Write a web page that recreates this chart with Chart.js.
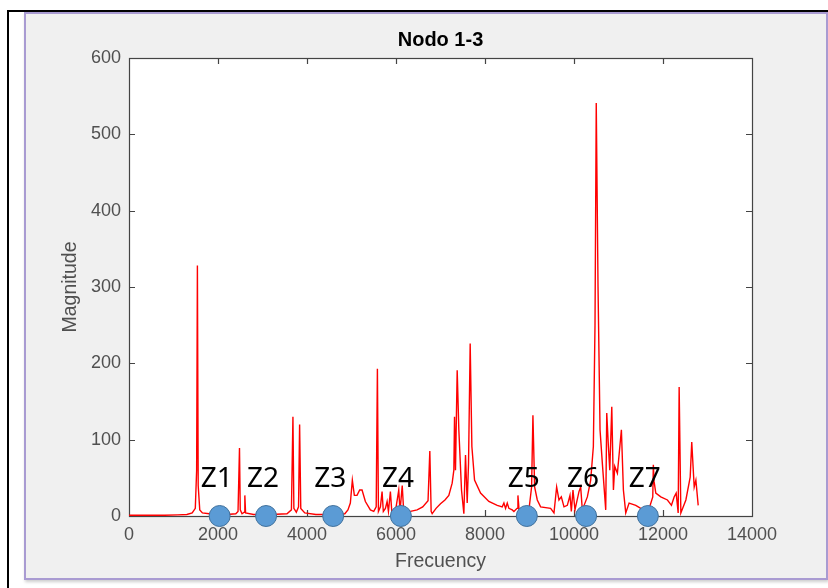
<!DOCTYPE html>
<html>
<head>
<meta charset="utf-8">
<script src="https://cdn.jsdelivr.net/npm/chart.js@4.4.1/dist/chart.umd.min.js"></script>
<style>
    html, body { margin: 0; padding: 0; background: #fff; }
    #page { position: relative; width: 828px; height: 588px; overflow: hidden; }
    .outer { position: absolute; left: 7px; top: 10px; right: 0; bottom: 0;
             border-left: 2px solid #000; border-top: 2px solid #000; }
    .panel { position: absolute; left: 24px; top: 12px; width: 800px; height: 564px;
             background: #f0f0f0; border: 2px solid #a99bd2; box-shadow: 1px 2px 3px rgba(0,0,0,0.2); }
    canvas { position: absolute; left: 0; top: 0; }
</style>
</head>
<body>
<div id="page">
    <div class="outer"></div>
    <div class="panel"></div>
    <canvas id="chart" width="828" height="588"></canvas>
</div>
<script>
// spectrum
const freq = [0, 400, 800, 1100, 1300, 1420, 1490, 1520, 1537, 1555, 1590, 1650, 1800, 2000, 2200,
    2400, 2450, 2483, 2500, 2540, 2590, 2603, 2620, 2800, 3200, 3550, 3650, 3684, 3705, 3760,
    3810, 3834, 3860, 3950, 4200, 4600, 4850, 4920, 4974, 5019, 5064, 5124, 5184, 5237, 5312,
    5424, 5500, 5555, 5582, 5605, 5650, 5687, 5715, 5762, 5800, 5830, 5874, 5905, 5987, 6062,
    6090, 6140, 6175, 6324, 6475, 6600, 6720, 6760, 6790, 6813, 6900, 7000, 7100, 7187, 7262,
    7300, 7315, 7337, 7375, 7412, 7472, 7525, 7562, 7600, 7630, 7667, 7705, 7765, 7900, 8087,
    8275, 8387, 8425, 8462, 8500, 8537, 8612, 8650, 8720, 8740, 8770, 8875, 8987, 9047, 9077,
    9115, 9175, 9250, 9475, 9550, 9610, 9662, 9715, 9775, 9850, 9910, 9940, 9977, 10022, 10112,
    10150, 10187, 10300, 10375, 10435, 10472, 10500, 10540, 10585, 10637, 10713, 10736, 10773, 10804, 10849,
    10886, 10916, 10975, 11065, 11110, 11163, 11238, 11388, 11500, 11613, 11700, 11770, 11783, 11800, 11838,
    11950, 12100, 12190, 12250, 12296, 12341, 12363, 12401, 12514, 12611, 12646, 12701, 12739, 12791];
const mag = [1, 1, 1, 1.5, 2, 4, 10, 60, 328, 40, 8, 4, 3, 2, 2,
    3, 6, 89, 8, 3, 5, 27, 4, 2, 2, 3, 8, 130, 10, 5,
    12, 120, 10, 4, 2, 2, 3, 8, 17, 47, 27, 27, 34, 34, 19,
    8, 6, 12, 193, 6, 12, 32, 6, 10, 19, 6, 32, 6, 6, 34,
    6, 40, 4, 6, 8, 12, 20, 85, 6, 3, 10, 16, 21, 27, 43,
    60, 130, 60, 191, 113, 34, 3, 80, 17, 69, 226, 91, 47, 30, 19,
    14, 12, 17, 10, 17, 10, 8, 6, 10, 27, 5, 6, 8, 38, 132,
    38, 21, 12, 10, 4, 38, 21, 25, 12, 14, 27, 6, 34, 8, 32,
    38, 8, 25, 47, 91, 250, 541, 300, 113, 69, 8, 135, 91, 60, 143,
    34, 65, 56, 113, 34, 4, 17, 14, 10, 6, 12, 25, 67, 45, 30,
    25, 21, 14, 25, 30, 4, 169, 4, 21, 51, 97, 38, 47, 14];

// zone markers on the frequency axis
const zoneNames = ['Z1', 'Z2', 'Z3', 'Z4', 'Z5', 'Z6', 'Z7'];
const zoneFreq = [2037, 3080, 4588, 6110, 8940, 10272, 11660];

const chartTitle = 'Nodo 1-3';
const tickFont = {family: 'Liberation Sans', size: 18, lineHeight: 1.2};
const labelFont = {family: 'Liberation Sans', size: 19.5, lineHeight: 1.2};
const tickColor = '#505050';
const axisColor = '#444';

const matlabAxes = {
    id: 'matlabAxes',
    beforeDraw(chart) {
        const {ctx, chartArea: a} = chart;
        ctx.save();
        ctx.fillStyle = '#fff';
        ctx.fillRect(a.left, a.top, a.right - a.left, a.bottom - a.top);
        // title centred over the axes box, like matlab does
        ctx.fillStyle = '#000';
        ctx.font = 'bold 20px "Liberation Sans"';
        ctx.textAlign = 'center';
        ctx.textBaseline = 'middle';
        ctx.fillText(chartTitle, (a.left + a.right) / 2, a.top - 18);
        ctx.restore();
    },
    beforeDatasetsDraw(chart) {
        const {ctx, chartArea: a, scales} = chart;
        const len = 6;
        ctx.save();
        ctx.strokeStyle = axisColor;
        ctx.lineWidth = 1.2;
        ctx.beginPath();
        scales.x.ticks.forEach(t => {
            if (t.value <= scales.x.min || t.value >= scales.x.max) return;
            const px = Math.round(scales.x.getPixelForValue(t.value)) + 0.5;
            ctx.moveTo(px, a.bottom); ctx.lineTo(px, a.bottom - len);
            ctx.moveTo(px, a.top); ctx.lineTo(px, a.top + len);
        });
        scales.y.ticks.forEach(t => {
            if (t.value <= scales.y.min || t.value >= scales.y.max) return;
            const py = Math.round(scales.y.getPixelForValue(t.value)) + 0.5;
            ctx.moveTo(a.left, py); ctx.lineTo(a.left + len, py);
            ctx.moveTo(a.right, py); ctx.lineTo(a.right - len, py);
        });
        ctx.stroke();
        ctx.strokeRect(a.left + 0.5, a.top + 0.5, a.right - a.left, a.bottom - a.top);
        ctx.restore();
    },
    afterDatasetsDraw(chart) {
        const {ctx, scales} = chart;
        ctx.save();
        ctx.fillStyle = '#000';
        ctx.font = '28px "Noto Sans"';
        ctx.textAlign = 'center';
        ctx.textBaseline = 'middle';
        const y0 = scales.y.getPixelForValue(0);
        zoneFreq.forEach((f, i) => {
            ctx.fillText(zoneNames[i], scales.x.getPixelForValue(f) - 3, y0 - 37);
        });
        ctx.restore();
    }
};

new Chart(document.getElementById('chart'), {
    type: 'line',
    data: {
        datasets: [
            {
                data: freq.map((f, i) => ({x: f, y: mag[i]})),
                borderColor: '#ff0000',
                borderWidth: 1.4,
                pointRadius: 0,
                tension: 0,
                order: 1
            },
            {
                type: 'scatter',
                data: zoneFreq.map(f => ({x: f, y: 0})),
                pointRadius: 10.5,
                backgroundColor: '#5b9bd5',
                borderColor: '#41719c',
                borderWidth: 1,
                clip: false,
                order: 0
            }
        ]
    },
    options: {
        responsive: false,
        animation: false,
        layout: {padding: {left: 0, right: 76, top: 58, bottom: 0}},
        plugins: {
            legend: {display: false},
            tooltip: {enabled: false},
            title: {display: false}
        },
        scales: {
            x: {
                type: 'linear',
                min: 0,
                max: 14000,
                grid: {display: false, drawTicks: false},
                border: {display: false},
                ticks: {stepSize: 2000, font: tickFont, color: tickColor, padding: 8,
                    maxRotation: 0, callback: v => String(v)},
                title: {display: true, text: 'Frecuency', color: tickColor, font: labelFont,
                    padding: {top: 0, bottom: 15}},
                afterFit(s) { s.height = 72; }
            },
            y: {
                min: 0,
                max: 600,
                grid: {display: false, drawTicks: false},
                border: {display: false},
                ticks: {stepSize: 100, font: tickFont, color: tickColor, padding: 8,
                    callback: v => String(v)},
                title: {display: true, text: 'Magnitude', color: tickColor, font: labelFont,
                    padding: {top: 59, bottom: 0}},
                afterFit(s) { s.width = 129; }
            }
        }
    },
    plugins: [matlabAxes]
});
</script>
</body>
</html>
